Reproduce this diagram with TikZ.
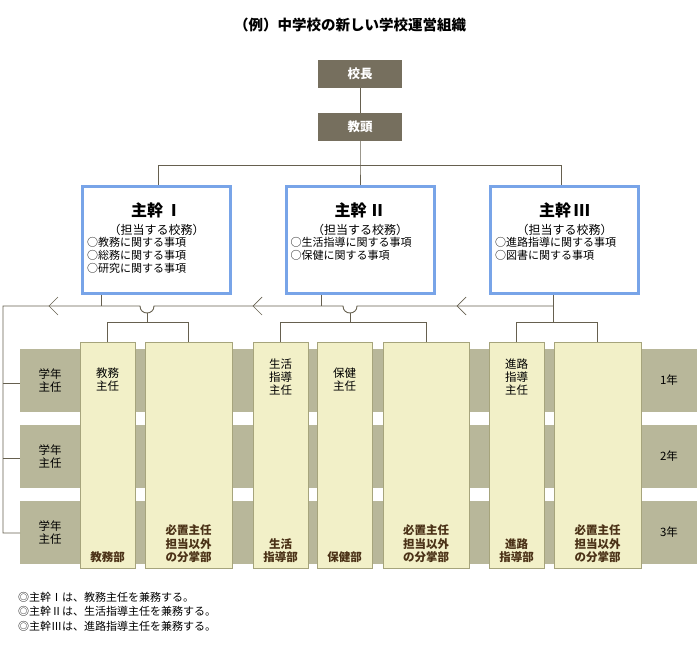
\documentclass[tikz,border=0pt]{standalone}
\usepackage{fontspec}
\setmainfont{Noto Sans CJK JP}
\begin{document}
\begin{tikzpicture}[x=1pt,y=-1pt,
  head/.style={fill=headc,text=white,font=\bfseries\fontsize{12.5}{14}\selectfont,minimum width=84pt,minimum height=28pt,inner sep=0pt},
  kan/.style={draw=kb,line width=3pt,fill=white,minimum width=148pt,minimum height=107pt,inner sep=0pt},
  col/.style={draw=colb,fill=colf,line width=0.8pt},
  ln/.style={draw=lnc,line width=0.9pt},
  tx/.style={font=\fontsize{11.5}{13}\selectfont,align=center,inner sep=0pt},
  bt/.style={font=\bfseries\fontsize{11.5}{13.5}\selectfont,align=center,text=brn,inner sep=0pt,anchor=south},
]
\definecolor{headc}{HTML}{766F5E}
\definecolor{colf}{HTML}{F2F0C8}
\definecolor{colb}{HTML}{A6A47C}
\definecolor{rowf}{HTML}{B8B79A}
\definecolor{lnc}{HTML}{66604F}
\definecolor{brn}{HTML}{4A3116}
\definecolor{kb}{HTML}{78A4E8}
\useasboundingbox (0,0) rectangle (700,660);
\node[font=\bfseries\fontsize{14.5}{16}\selectfont] (title) at (350,25) {（例）中学校の新しい学校運営組織};
\node[head] (kocho) at (360,74) {校長};
\node[head] (kyoto) at (360,127) {教頭};
\draw[ln] (kocho) -- (kyoto);
% kanji boxes
\node[kan] (k1) at (156.5,240) {};
\node[kan] (k2) at (360,240) {};
\node[kan] (k3) at (564.5,240) {};
\coordinate (t1) at (158,165); \coordinate (t3) at (561,165);
\draw[ln] (kyoto.south) -- (360,165) -- (k2.north);
\draw[ln] (k1.north -| t1) -- (t1) -- (t3) -- (k3.north -| t3);
\foreach \n/\r/\t in {k1/Ⅰ/{○教務に関する事項\\○総務に関する事項\\○研究に関する事項},k2/Ⅱ/{○生活指導に関する事項\\○保健に関する事項},k3/Ⅲ/{○進路指導に関する事項\\○図書に関する事項}}{
  \node[font=\bfseries\fontsize{16}{18}\selectfont] at ([yshift=-25pt]\n.north) {主幹\,\r};
  \node[font=\fontsize{12}{13}\selectfont] at ([yshift=-45pt]\n.north) {（担当する校務）};
  \node[font=\fontsize{11}{13}\selectfont,align=left,anchor=north west,inner sep=0pt] at ([xshift=6pt,yshift=-52pt]\n.north west) {\t};
}
% rows
\foreach \y/\lab in {349/1年,425/2年,501/3年}{
  \fill[rowf] (20,\y) rectangle (697,\y+63);
  \node[tx] at (50,\y+31.5) {学年\\主任};
  \node[tx] at (669,\y+31.5) {\lab};
}
% columns
\foreach \a/\b/\nm in {80/135/c1,145/232/c2,253/308/c3,317/372/c4,383/469/c5,489/544/c6,554/641/c7}{
  \draw[col] (\a,342) rectangle (\b,568);
  \coordinate (\nm) at ({(\a+\b)/2},342);
  \coordinate (\nm b) at ({(\a+\b)/2},563);
}
\node[tx,anchor=north] at ([yshift=-26pt]c1) {教務\\主任};
\node[tx,anchor=north] at ([yshift=-17pt]c3) {生活\\指導\\主任};
\node[tx,anchor=north] at ([yshift=-26pt]c4) {保健\\主任};
\node[tx,anchor=north] at ([yshift=-17pt]c6) {進路\\指導\\主任};
\node[bt] at (c1b) {教務部};
\node[bt] at (c2b) {必置主任\\担当以外\\の分掌部};
\node[bt] at (c3b) {生活\\指導部};
\node[bt] at (c4b) {保健部};
\node[bt] at (c5b) {必置主任\\担当以外\\の分掌部};
\node[bt] at (c6b) {進路\\指導部};
\node[bt] at (c7b) {必置主任\\担当以外\\の分掌部};
% lower connectors
\coordinate (h1) at (147,313); \coordinate (h2) at (350,313);
\draw[ln] (k3.south -| 553,0) -- (553,322);
\draw[ln] (553,306) -- (357,306) .. controls (357,315.3) and (343,315.3) .. (343,306) -- (154,306) .. controls (154,315.3) and (140,315.3) .. (140,306) -- (3,306) -- (3,533) -- (20,533);
\draw[ln] (3,383) -- (20,383); \draw[ln] (3,458) -- (20,458);
\draw[ln] (k1.south -| 101,0) -- (101,306);
\draw[ln] (k2.south -| 321,0) -- (321,306);
\draw[ln] (h1) -- (147,322); \draw[ln] (h2) -- (350,322);
\draw[ln] (c1) -- (c1 |- 0,322) -- (c2 |- 0,322) -- (c2);
\draw[ln] (c3) -- (c3 |- 0,322) -- (c5 |- 0,322) -- (c5);
\draw[ln] (c6) -- (c6 |- 0,322) -- (c7 |- 0,322) -- (c7);
\foreach \x in {49,253,457}{\draw[ln,line width=0.7pt] (\x+9,297) -- (\x,306) -- (\x+9,315);}
% notes
\node[font=\fontsize{11}{14.5}\selectfont,align=left,anchor=north west,inner sep=0pt] (notes) at (18,592) {◎主幹Ⅰは、教務主任を兼務する。\\◎主幹Ⅱは、生活指導主任を兼務する。\\◎主幹Ⅲは、進路指導主任を兼務する。};
\end{tikzpicture}
\end{document}
